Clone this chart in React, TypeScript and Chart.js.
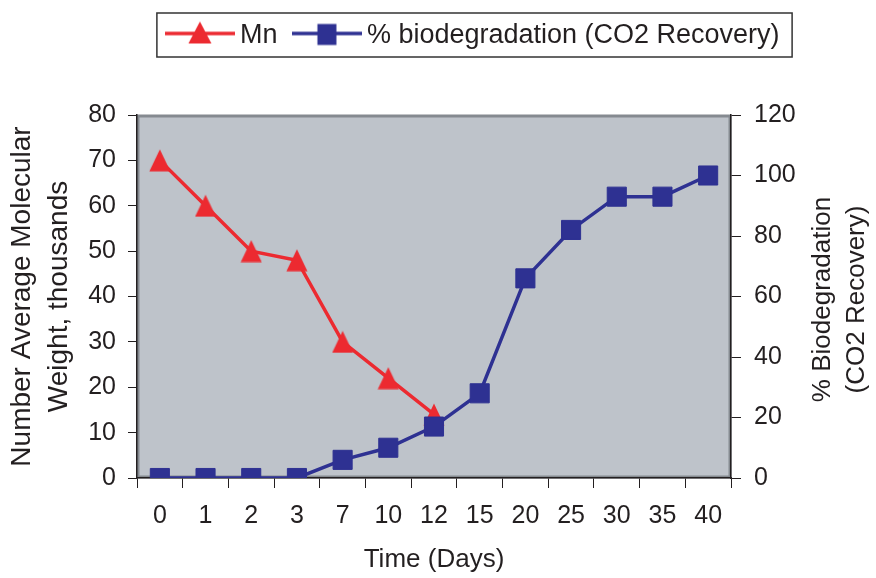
import { useEffect, useRef } from 'react';
import { Chart, registerables } from 'chart.js';

Chart.register(...registerables);

const days = ['0', '1', '2', '3', '7', '10', '12', '15', '20', '25', '30', '35', '40'];
const mnValues = [70, 60, 50, 48, 30, 22, 14, null, null, null, null, null, null];
const biodegValues = [0, 0, 0, 0, 6, 10, 17, 28, 66, 82, 93, 93, 100];
const leftAxis = { min: 0, max: 80, step: 10 };
const rightAxis = { min: 0, max: 120, step: 20 };
const mnLabel = 'Mn';
const biodegLabel = '% biodegradation (CO2 Recovery)';
const leftTitle = ['Number Average Molecular', 'Weight, thousands'];
const rightTitle = ['% Biodegradation', '(CO2 Recovery)'];
const xTitle = 'Time (Days)';

const RED = '#EC2A30';
const BLUE = '#2E3192';
const TEXT = '#231F20';
const PLOT_BG = '#BEC3CA';
const FONT = "'Liberation Sans', Arial, Helvetica, sans-serif";

function makeTriangle(color: string, w: number, h: number) {
  const c = document.createElement('canvas');
  c.width = w;
  c.height = h;
  const ctx = c.getContext('2d')!;
  ctx.fillStyle = color;
  ctx.beginPath();
  ctx.moveTo(w / 2, 0.5);
  ctx.lineTo(w - 0.5, h - 0.5);
  ctx.lineTo(0.5, h - 0.5);
  ctx.closePath();
  ctx.fill();
  return c;
}

function makeLegendIcon(color: string, kind: 'tri' | 'sq') {
  const c = document.createElement('canvas');
  c.width = 70;
  c.height = 30;
  const ctx = c.getContext('2d')!;
  ctx.strokeStyle = color;
  ctx.lineWidth = 3.5;
  ctx.beginPath();
  ctx.moveTo(0, 13);
  ctx.lineTo(70, 13);
  ctx.stroke();
  ctx.fillStyle = color;
  if (kind === 'tri') {
    ctx.beginPath();
    ctx.moveTo(35, 1);
    ctx.lineTo(46.5, 23);
    ctx.lineTo(23.5, 23);
    ctx.closePath();
    ctx.fill();
  } else {
    ctx.fillRect(25.5, 3.5, 19, 21);
  }
  return c;
}

export default function App() {
  const ref = useRef<HTMLCanvasElement | null>(null);

  useEffect(() => {
    if (!ref.current) return;
    Chart.defaults.font.family = FONT;
    Chart.defaults.color = TEXT;

    const triMarker = makeTriangle(RED, 22, 23);
    const legendIcons = [makeLegendIcon(RED, 'tri'), makeLegendIcon(BLUE, 'sq')];

    const plotBg = {
      id: 'plotBg',
      beforeDraw(chart: any) {
        const { ctx, chartArea: a } = chart;
        ctx.save();
        ctx.fillStyle = PLOT_BG;
        ctx.fillRect(a.left, a.top, a.right - a.left, a.bottom - a.top);
        ctx.strokeStyle = '#858a90';
        ctx.lineWidth = 3;
        ctx.strokeRect(a.left + 1, a.top + 1, a.right - a.left - 2, a.bottom - a.top - 2);
        ctx.restore();
      },
    };

    const legendPlace = {
      id: 'legendPlace',
      afterLayout(chart: any) {
        const lg = chart.legend;
        if (!lg) return;
        const dy = -1 - lg.top;
        const dx = 38.5;
        lg.top += dy;
        lg.bottom += dy;
        lg.left += dx;
        lg.right += dx;
      },
      afterDraw(chart: any) {
        const lg = chart.legend;
        if (!lg || !lg.legendHitBoxes || !lg.legendHitBoxes.length) return;
        const hb = lg.legendHitBoxes;
        const first = hb[0];
        const last = hb[hb.length - 1];
        const { ctx } = chart;
        ctx.save();
        ctx.strokeStyle = '#333333';
        ctx.lineWidth = 1.5;
        const l = first.left - 16.5;
        const r = last.left + last.width + 12.5;
        const t = first.top - 9;
        const b = first.top + first.height + 8;
        ctx.strokeRect(l, t, r - l, b - t);
        ctx.restore();
      },
    };

    const rightTitlePlugin = {
      id: 'rightTitle',
      afterDraw(chart: any) {
        const { ctx, chartArea: a } = chart;
        ctx.save();
        ctx.fillStyle = TEXT;
        ctx.font = `26px ${FONT}`;
        ctx.textAlign = 'center';
        ctx.textBaseline = 'middle';
        const cy = (a.top + a.bottom) / 2 + 3;
        rightTitle.forEach((line, i) => {
          ctx.save();
          ctx.translate(a.right + 92 + i * 34, cy);
          ctx.rotate(-Math.PI / 2);
          ctx.fillText(line, 0, 0);
          ctx.restore();
        });
        ctx.restore();
      },
    };

    const chart = new Chart(ref.current, {
      type: 'line',
      data: {
        labels: days,
        datasets: [
          {
            label: mnLabel,
            data: mnValues,
            yAxisID: 'y',
            borderColor: RED,
            backgroundColor: RED,
            borderWidth: 3.5,
            pointStyle: triMarker as any,
            pointRadius: 12,
            pointHoverRadius: 12,
            spanGaps: false,
            tension: 0,
            order: 1,
          },
          {
            label: biodegLabel,
            data: biodegValues,
            yAxisID: 'y1',
            borderColor: BLUE,
            backgroundColor: BLUE,
            borderWidth: 3.5,
            pointStyle: 'rect',
            pointRadius: 13.5,
            pointHoverRadius: 13.5,
            pointBackgroundColor: BLUE,
            pointBorderColor: BLUE,
            pointBorderWidth: 1,
            tension: 0,
            order: 0,
          },
        ],
      },
      options: {
        responsive: false,
        animation: false,
        devicePixelRatio: 1,
        layout: { padding: { top: 55, left: 0, right: 0, bottom: 0 } },
        plugins: {
          tooltip: { enabled: false },
          title: { display: false },
          legend: {
            display: true,
            position: 'top',
            labels: {
              usePointStyle: true,
              pointStyleWidth: 53,
              padding: 23,
              color: TEXT,
              font: { size: 27, family: FONT },
              sort: (a: any, b: any) => a.datasetIndex - b.datasetIndex,
              generateLabels: (c: any) => {
                const items = (Chart.defaults.plugins.legend.labels.generateLabels as any)(c);
                items.forEach((it: any) => {
                  it.pointStyle = legendIcons[it.datasetIndex];
                });
                return items;
              },
            },
          },
        },
        scales: {
          x: {
            type: 'category',
            offset: true,
            grid: {
              display: true,
              drawOnChartArea: false,
              drawTicks: true,
              tickLength: 10,
              offset: true,
              color: TEXT,
              lineWidth: 1,
            },
            border: { display: true, color: TEXT, width: 1.5 },
            ticks: {
              color: TEXT,
              font: { size: 25, family: FONT },
              padding: 13,
              maxRotation: 0,
              autoSkip: false,
            },
            title: {
              display: true,
              text: xTitle,
              color: TEXT,
              font: { size: 26, family: FONT },
              padding: { top: 0, bottom: 2.5 },
            },
            afterFit: (s: any) => {
              s.height = 100;
            },
          },
          y: {
            type: 'linear',
            position: 'left',
            min: leftAxis.min,
            max: leftAxis.max,
            grid: {
              display: true,
              drawOnChartArea: false,
              drawTicks: true,
              tickLength: 9,
              color: TEXT,
              lineWidth: 1,
            },
            border: { display: true, color: TEXT, width: 1.5 },
            ticks: {
              stepSize: leftAxis.step,
              color: TEXT,
              font: { size: 25, family: FONT },
              padding: 12,
            },
            title: {
              display: true,
              text: leftTitle,
              color: TEXT,
              font: { size: 28, family: FONT, lineHeight: 1.32 },
              padding: { top: 3.5, bottom: 0 },
            },
            afterFit: (s: any) => {
              s.width = 137;
            },
          },
          y1: {
            type: 'linear',
            position: 'right',
            min: rightAxis.min,
            max: rightAxis.max,
            grid: {
              display: true,
              drawOnChartArea: false,
              drawTicks: true,
              tickLength: 10,
              color: TEXT,
              lineWidth: 1,
            },
            border: { display: true, color: TEXT, width: 1.5 },
            ticks: {
              stepSize: rightAxis.step,
              color: TEXT,
              font: { size: 25, family: FONT },
              padding: 13,
            },
            afterFit: (s: any) => {
              s.width = 145;
            },
          },
        },
      } as any,
      plugins: [plotBg, legendPlace, rightTitlePlugin],
    });

    return () => chart.destroy();
  }, []);

  return (
    <div style={{ position: 'fixed', left: 0, top: 0, width: 876, height: 578, background: '#fff' }}>
      <canvas ref={ref} width={876} height={578} style={{ display: 'block', width: 876, height: 578 }} />
    </div>
  );
}
